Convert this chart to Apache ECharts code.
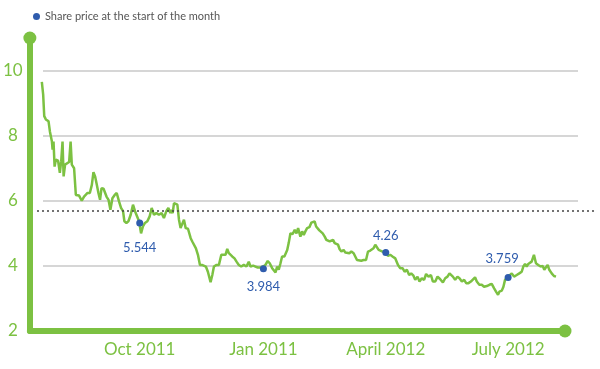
<!DOCTYPE html>
<html><head><meta charset="utf-8">
<script src="https://cdn.jsdelivr.net/npm/echarts@6/dist/echarts.min.js"></script>
<style>html,body{margin:0;padding:0;background:#fff}#c{width:600px;height:369px}</style>
</head><body><div id="c"></div>
<script>
// Days since 1 Oct 2011 and share price
const days = [
-72.8,-71.8,-71.0,-69.8,-67.8,-66.8,-65.3,-64.8,-64.1,-63.3,-62.4,-60.7,-59.4,-58.4,-57.4,-56.6,-55.5,-54.2,-52.5,-51.4,
-50.5,-48.8,-47.5,-45.1,-43.1,-41.4,-38.8,-37.1,-35.6,-34.4,-33.2,-31.9,-30.7,-29.5,-28.4,-26.9,-24.7,-23.2,-21.8,-20.3,
-18.6,-17.1,-15.4,-13.9,-12.4,-11.4,-9.9,-8.4,-6.7,-5.0,-3.5,-2.2,-0.5,1.0,2.4,3.9,5.7,7.4,8.9,10.6,
12.4,14.3,16.3,18.0,19.8,21.3,22.8,23.5,24.5,25.5,26.9,28.0,29.2,30.4,31.7,32.9,34.2,35.9,37.9,39.1,
40.3,41.8,43.3,44.8,46.3,47.7,49.2,50.7,52.7,54.0,55.2,57.2,58.9,60.7,62.1,63.8,65.1,66.3,67.6,68.8,
70.5,72.0,73.7,75.5,77.4,79.4,81.1,82.4,84.4,86.1,87.8,89.8,91.8,93.5,95.2,96.7,98.5,99.7,101.0,102.2,
103.4,104.7,105.9,107.6,109.7,110.8,112.1,113.8,115.3,116.6,117.8,119.5,120.8,122.0,123.2,124.5,126.2,127.7,129.0,130.1,
131.2,132.4,133.6,134.9,136.1,137.6,138.8,140.1,141.3,142.5,143.8,145.0,146.3,147.5,148.7,150.0,151.7,152.9,154.2,155.9,
157.4,159.1,160.4,161.6,162.8,164.8,166.5,168.3,169.8,171.5,172.8,173.9,175.2,176.5,177.7,178.9,180.6,183.2,184.6,186.3,
188.0,190.1,192.1,193.8,195.5,197.0,198.7,200.4,201.9,203.6,204.9,206.6,208.1,209.8,211.5,213.0,214.8,216.6,218.0,219.8,
221.5,223.5,225.5,227.2,228.9,230.4,231.6,232.9,234.6,236.3,237.8,239.6,241.3,242.8,244.5,246.3,247.7,249.4,250.7,252.6,
254.4,256.1,258.1,260.1,261.8,263.6,265.0,266.5,267.5,269.3,270.5,271.7,273.7,274.9,276.7,278.4,280.4,282.3,284.1,285.3,
286.6,287.8,289.0,290.3,291.5,293.2,294.7,296.4,298.2,299.7,300.9,302.1,303.4,304.6,306.4,308.1,309.6
];
const prices = [
9.65,9.26,8.6,8.5,8.44,8.13,7.82,7.57,7.82,7.05,7.26,7.23,6.86,7.21,7.82,6.75,7.11,7.16,7.19,7.82,
7.11,7.0,6.18,6.16,6.0,6.13,6.24,6.24,6.49,6.88,6.75,6.49,6.24,6.03,6.39,6.37,6.13,6.03,5.72,6.08,
6.18,6.24,5.98,5.78,5.68,5.37,5.32,5.37,5.57,5.88,5.68,5.62,5.37,5.0,5.21,5.32,5.37,5.52,5.78,5.57,
5.62,5.57,5.62,5.47,5.68,5.78,5.62,5.72,5.62,5.93,5.96,5.88,5.42,5.16,5.11,5.42,5.16,5.14,4.85,4.75,
4.75,4.54,4.34,4.03,4.03,4.08,3.98,3.82,3.5,3.72,3.98,4.03,4.03,4.34,4.29,4.34,4.52,4.39,4.44,4.29,
4.23,4.13,4.03,3.98,4.03,3.98,4.13,3.98,4.01,3.98,3.95,3.95,3.98,4.03,4.15,4.08,3.93,3.98,3.8,3.98,
3.88,4.08,4.29,4.29,4.49,4.7,5.0,4.98,5.11,5.0,5.16,4.9,5.06,4.95,5.06,5.16,5.19,5.33,5.38,5.37,
5.21,5.26,5.09,5.11,5.0,4.9,4.8,4.75,4.75,4.7,4.8,4.7,4.75,4.65,4.51,4.44,4.49,4.41,4.47,4.39,
4.44,4.39,4.41,4.18,4.13,4.16,4.18,4.18,4.44,4.47,4.51,4.54,4.65,4.6,4.49,4.54,4.44,4.41,4.31,4.34,
4.29,4.23,4.03,3.93,3.93,3.82,3.88,3.72,3.77,3.7,3.57,3.67,3.52,3.62,3.57,3.75,3.67,3.72,3.52,3.52,
3.67,3.59,3.49,3.62,3.67,3.77,3.8,3.67,3.57,3.67,3.62,3.52,3.57,3.47,3.47,3.52,3.49,3.65,3.52,3.42,
3.42,3.36,3.38,3.42,3.45,3.31,3.21,3.11,3.21,3.24,3.36,3.57,3.66,3.72,3.77,3.67,3.72,3.77,3.82,3.98,
4.06,3.98,4.06,4.0,4.13,4.34,4.08,4.03,3.98,4.0,3.88,3.82,4.03,3.88,3.77,3.69,3.67
];
// Quarter-start markers
const dotDays = [0, 92, 183, 274];
const dotPrices = [5.32, 3.91, 4.41, 3.64];
const dotLabels = ['5.544', '3.984', '4.26', '3.759'];
// X tick labels (at quarter starts)
const tickDays = [0, 92, 183, 274];
const tickLabels = ['Oct 2011', 'Jan 2011', 'April 2012', 'July 2012'];
const refPrice = 5.7;
const legendName = 'Share price at the start of the month';

// styles
const green = '#7cc142';
const blue = '#2f5cad';
const dotLabelStyle = [
  {position: 'bottom', distance: 15, offset: [0, 0]},
  {position: 'bottom', distance: 8, offset: [0, 0]},
  {position: 'top', distance: 7, offset: [0, 0]},
  {position: 'top', distance: 9, offset: [-6, 0]}
];

const lineData = days.map((d, i) => [d, prices[i]]);
const dotData = dotDays.map((d, i) => ({
  value: [d, dotPrices[i]],
  label: Object.assign({show: true, formatter: dotLabels[i]}, dotLabelStyle[i])
}));

const chart = echarts.init(document.getElementById('c'), null, {renderer: 'canvas'});
const font = 'Lato';
chart.setOption({
  animation: false,
  textStyle: {fontFamily: font},
  legend: {
    data: [legendName], left: 28, top: 6, icon: 'circle', itemWidth: 7, itemHeight: 7, itemGap: 5,
    textStyle: {color: '#555', fontSize: 11, fontFamily: font}
  },
  grid: [
    {left: 29, right: 35, top: 38, bottom: 38},
    {left: 43, right: 22, top: 38, bottom: 38},
    {left: 37, right: 3, top: 38, bottom: 38}
  ],
  xAxis: [
    {gridIndex: 0, type: 'value', min: -81.7, max: 316.3,
      axisLine: {show: true, onZero: false, lineStyle: {color: green, width: 6}, symbol: ['none', 'circle'], symbolSize: [13, 13]},
      axisTick: {show: false}, splitLine: {show: false},
      axisLabel: {customValues: tickDays, formatter: v => tickLabels[tickDays.indexOf(v)], color: green, fontSize: 17, margin: 10, fontFamily: font}
    },
    {gridIndex: 1, type: 'value', min: 0, max: 1, show: false},
    {gridIndex: 2, type: 'value', min: 0, max: 1, show: false}
  ],
  yAxis: [
    {gridIndex: 0, type: 'value', min: 2, max: 11, interval: 2,
      axisLine: {show: true, onZero: false, lineStyle: {color: green, width: 6}, symbol: ['none', 'circle'], symbolSize: [13, 13]},
      axisTick: {show: false}, splitLine: {show: false},
      axisLabel: {color: green, fontSize: 17, showMaxLabel: false, margin: 17, align: 'center', fontFamily: font}
    },
    {gridIndex: 1, type: 'value', min: 2, max: 11, interval: 2,
      axisLine: {show: false}, axisTick: {show: false}, axisLabel: {show: false},
      splitLine: {show: true, lineStyle: {color: ['rgba(0,0,0,0)', '#c8c8c8', '#c8c8c8', '#c8c8c8', '#c8c8c8', 'rgba(0,0,0,0)'], width: 1.5}}
    },
    {gridIndex: 2, type: 'value', min: 2, max: 11, show: false}
  ],
  series: [
    {type: 'line', xAxisIndex: 2, yAxisIndex: 2, data: [], silent: true,
      markLine: {silent: true, symbol: 'none', label: {show: false},
        lineStyle: {type: [2, 3], color: '#444', width: 1.5}, data: [{yAxis: refPrice}]}
    },
    {type: 'line', xAxisIndex: 0, yAxisIndex: 0, data: lineData, showSymbol: false, z: 3,
      lineStyle: {color: green, width: 2.5}, itemStyle: {color: green}},
    {type: 'scatter', name: legendName, xAxisIndex: 0, yAxisIndex: 0, data: dotData, symbolSize: 7, z: 4,
      itemStyle: {color: blue, opacity: 1},
      label: {color: blue, fontSize: 13, fontFamily: font}}
  ]
});
</script>
</body></html>
